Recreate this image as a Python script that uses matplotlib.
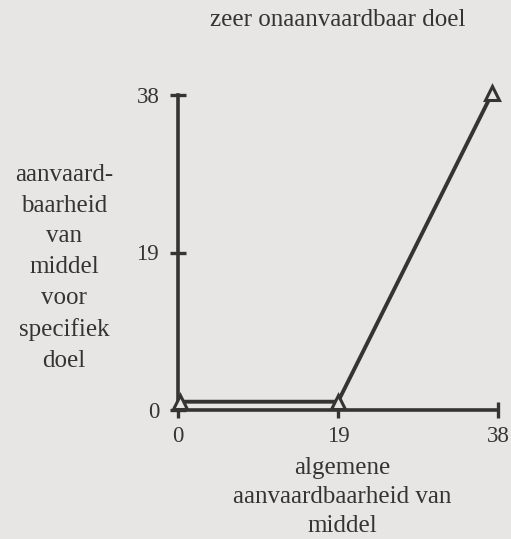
import matplotlib
matplotlib.use("Agg")
import matplotlib.pyplot as plt

# line of the chart: acceptability of means for a specific goal
x_values = [0.2, 19, 37.3]
y_values = [1.0, 1.0, 38.2]
tick_values = [0, 19, 38]
tick_labels = ["0", "19", "38"]

title_text = "zeer onaanvaardbaar doel"
y_label = "aanvaard-\nbaarheid\nvan\nmiddel\nvoor\nspecifiek\ndoel"
x_label = "algemene\naanvaardbaarheid van\nmiddel"

BG = "#e7e6e4"
INK = "#353333"
FONT = "Liberation Serif"

fig = plt.figure(figsize=(5.11, 5.39), dpi=100, facecolor=BG)
ax = fig.add_axes([178 / 511, 1 - 410 / 539, 320 / 511, 315 / 539])
ax.set_facecolor(BG)
ax.set_xlim(0, 38)
ax.set_ylim(0, 38)

for side in ("top", "right"):
    ax.spines[side].set_visible(False)
for side in ("left", "bottom"):
    ax.spines[side].set_linewidth(2.6)
    ax.spines[side].set_color(INK)

ax.set_xticks(tick_values)
ax.set_yticks(tick_values)
ax.set_xticklabels(tick_labels)
ax.set_yticklabels(tick_labels)
ax.tick_params(direction="inout", length=11, width=2.4, color=INK,
               labelcolor=INK, labelsize=16.5)
ax.tick_params(axis="x", pad=6)
ax.tick_params(axis="y", pad=8)
for lab in ax.get_xticklabels() + ax.get_yticklabels():
    lab.set_fontfamily(FONT)

ax.plot(x_values, y_values, color=INK, lw=2.8, marker="^", markersize=10,
        markerfacecolor=BG, markeredgecolor=INK, markeredgewidth=2.2,
        clip_on=False, zorder=5)

fig.text(338 / 511, 1 - 20 / 539, title_text, ha="center", va="center",
         fontsize=18, color=INK, family=FONT)
fig.text(64 / 511, 1 - 268 / 539, y_label, ha="center", va="center",
         fontsize=18, color=INK, family=FONT, linespacing=1.52)
fig.text(342 / 511, 1 - 497 / 539, x_label, ha="center", va="center",
         fontsize=18, color=INK, family=FONT, linespacing=1.42)

fig.savefig("out.png", dpi=100, facecolor=BG)
